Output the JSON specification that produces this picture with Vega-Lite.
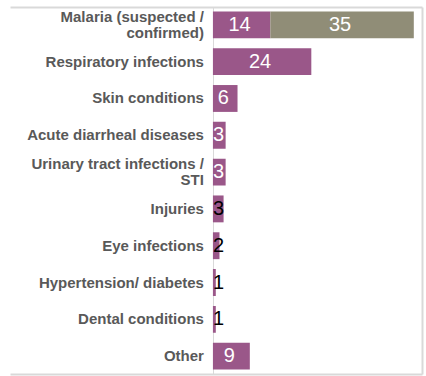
{
  "$schema": "https://vega.github.io/schema/vega-lite/v6.json",
  "width": 412,
  "height": 367,
  "autosize": {"type": "none"},
  "padding": {"left": 10, "top": 7, "right": 4, "bottom": 2},
  "background": "white",
  "config": {"view": {"stroke": null}, "font": "Liberation Sans"},
  "data": {"values": [
    {"category": "Malaria (suspected /\nconfirmed)", "series": "a", "value": 14},
    {"category": "Malaria (suspected /\nconfirmed)", "series": "b", "value": 35},
    {"category": "Respiratory infections", "series": "a", "value": 24},
    {"category": "Skin conditions", "series": "a", "value": 6},
    {"category": "Acute diarrheal diseases", "series": "a", "value": 3.1},
    {"category": "Urinary tract infections /\nSTI", "series": "a", "value": 3.1},
    {"category": "Injuries", "series": "a", "value": 2.6},
    {"category": "Eye infections", "series": "a", "value": 1.6},
    {"category": "Hypertension/ diabetes", "series": "a", "value": 0.7},
    {"category": "Dental conditions", "series": "a", "value": 0.7},
    {"category": "Other", "series": "a", "value": 9}
  ]},
  "transform": [
    {"stack": "value", "groupby": ["category"], "sort": [{"field": "series", "order": "ascending"}], "as": ["start", "end"]}
  ],
  "encoding": {
    "y": {
      "field": "category", "type": "nominal", "sort": null,
      "scale": {"paddingInner": 0.27, "paddingOuter": 0.12},
      "axis": {"orient": "right", "labels": false, "ticks": false, "title": null, "domain": true, "domainColor": "#d9d9d9", "domainWidth": 2}
    }
  },
  "layer": [
    {
      "mark": {"type": "bar"},
      "encoding": {
        "x": {
          "field": "start", "type": "quantitative",
          "scale": {"domain": [-49.5, 51], "nice": false, "zero": false},
          "axis": {"orient": "bottom", "title": null, "labels": false, "ticks": false, "domain": true, "domainColor": "#d9d9d9", "domainWidth": 2, "grid": true, "values": [0], "gridColor": "#d9d9d9", "gridWidth": 1}
        },
        "x2": {"field": "end"},
        "color": {"field": "series", "type": "nominal", "scale": {"domain": ["a", "b"], "range": ["#9a5789", "#908d77"]}, "legend": null}
      }
    },
    {
      "transform": [
        {"filter": "datum.value >= 5"},
        {"fold": ["start", "end"], "as": ["edge", "pos"]},
        {"aggregate": [{"op": "mean", "field": "pos", "as": "mid"}, {"op": "max", "field": "value", "as": "value"}], "groupby": ["category", "series"]}
      ],
      "mark": {"type": "text", "align": "center", "baseline": "middle", "fontSize": 20, "color": "white", "dx": -2},
      "encoding": {
        "x": {"field": "mid", "type": "quantitative", "axis": null},
        "text": {"field": "value", "type": "quantitative", "format": ".0f"}
      }
    },
    {
      "transform": [{"filter": "datum.value < 5"}],
      "mark": {"type": "text", "align": "left", "baseline": "middle", "fontSize": 20, "dx": 0},
      "encoding": {
        "x": {"field": "start", "type": "quantitative", "axis": null},
        "text": {"field": "value", "type": "quantitative", "format": ".0f"},
        "color": {"condition": {"test": "datum.value >= 3", "value": "white"}, "value": "black"}
      }
    },
    {
      "transform": [{"filter": "datum.series == 'a'"}],
      "mark": {"type": "text", "align": "right", "baseline": "middle", "dx": -9, "dy": {"expr": "indexof(datum.category, '\\n') >= 0 ? -8 : 0"}, "fontSize": 15, "fontWeight": "bold", "color": "#595959", "lineBreak": "\n", "lineHeight": 16},
      "encoding": {
        "x": {"datum": 0, "type": "quantitative", "axis": {"orient": "top", "title": null, "labels": false, "ticks": false, "grid": false, "domain": true, "domainColor": "#d9d9d9", "domainWidth": 2}},
        "text": {"field": "category", "type": "nominal"}
      }
    }
  ],
  "resolve": {"axis": {"x": "independent"}}
}
